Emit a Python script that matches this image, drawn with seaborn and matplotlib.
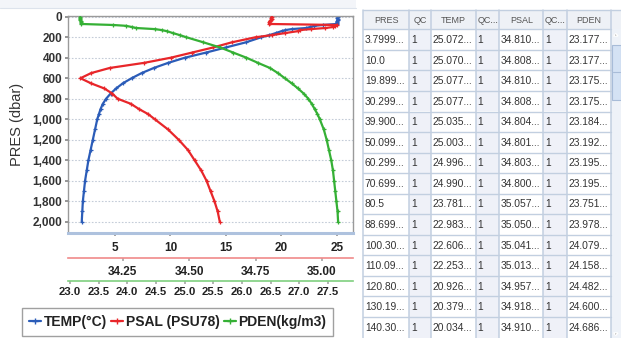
import numpy as np
import matplotlib
matplotlib.use("Agg")
import matplotlib.pyplot as plt
import seaborn as sns
from matplotlib.lines import Line2D
from matplotlib.patches import Rectangle, Polygon
from matplotlib.ticker import FuncFormatter

# profile data (pressure in dbar)
pres = [3.8, 10.0, 19.9, 30.3, 39.9, 50.1, 60.3, 70.7, 80.5, 88.7, 100.3, 110.1, 120.8, 130.2, 140.3,
        160, 180, 200, 250, 300, 350, 400, 450, 500, 550, 600, 650, 700, 750, 800, 850, 900, 950,
        1000, 1100, 1200, 1300, 1400, 1500, 1600, 1700, 1800, 1900, 2000]
temp = [25.072, 25.070, 25.077, 25.077, 25.035, 25.003, 24.996, 24.990, 23.781, 22.983, 22.606, 22.253,
        20.926, 20.379, 20.034, 19.5, 18.9, 18.2, 16.8, 15.0, 13.2, 11.3, 9.8, 8.5, 7.4, 6.5, 5.7, 5.1,
        4.6, 4.2, 3.9, 3.7, 3.55, 3.4, 3.2, 3.0, 2.8, 2.6, 2.45, 2.3, 2.2, 2.1, 2.05, 2.0]
psal = [34.810, 34.808, 34.810, 34.808, 34.804, 34.801, 34.803, 34.800, 35.057, 35.050, 35.041, 35.013,
        34.957, 34.918, 34.910, 34.86, 34.81, 34.75, 34.66, 34.59, 34.51, 34.43, 34.33, 34.20, 34.13,
        34.09, 34.13, 34.18, 34.21, 34.23, 34.28, 34.31, 34.345, 34.37, 34.42, 34.46, 34.495, 34.52,
        34.545, 34.565, 34.58, 34.595, 34.607, 34.615]
pden = [23.177, 23.177, 23.175, 23.175, 23.184, 23.192, 23.195, 23.195, 23.751, 23.978, 24.079, 24.158,
        24.482, 24.600, 24.686, 24.80, 24.92, 25.03, 25.33, 25.62, 25.85, 26.08, 26.28, 26.49, 26.63,
        26.75, 26.87, 26.98, 27.08, 27.16, 27.22, 27.27, 27.32, 27.36, 27.43, 27.48, 27.52, 27.56,
        27.59, 27.61, 27.63, 27.65, 27.67, 27.68]

series_labels = ["TEMP(°C)", "PSAL (PSU78)", "PDEN(kg/m3)"]
temp_ticks = [5, 10, 15, 20, 25]
psal_ticks = [34.25, 34.50, 34.75, 35.00]
pden_ticks = [23.0, 23.5, 24.0, 24.5, 25.0, 25.5, 26.0, 26.5, 27.0, 27.5]
pres_ticks = list(range(0, 2001, 200))

# table contents
col_headers = ["PRES", "QC", "TEMP", "QC...", "PSAL", "QC...", "PDEN"]
tab_pres = ["3.7999...", "10.0", "19.899...", "30.299...", "39.900...", "50.099...", "60.299...",
            "70.699...", "80.5", "88.699...", "100.30...", "110.09...", "120.80...", "130.19...", "140.30..."]
tab_temp = ["25.072...", "25.070...", "25.077...", "25.077...", "25.035...", "25.003...", "24.996...",
            "24.990...", "23.781...", "22.983...", "22.606...", "22.253...", "20.926...", "20.379...", "20.034..."]
tab_psal = ["34.810...", "34.808...", "34.810...", "34.808...", "34.804...", "34.801...", "34.803...",
            "34.800...", "35.057...", "35.050...", "35.041...", "35.013...", "34.957...", "34.918...", "34.910..."]
tab_pden = ["23.177...", "23.177...", "23.175...", "23.175...", "23.184...", "23.192...", "23.195...",
            "23.195...", "23.751...", "23.978...", "24.079...", "24.158...", "24.482...", "24.600...", "24.686..."]
tab_qc = ["1"] * len(tab_pres)

BLUE, RED, GREEN = "#2b5cb8", "#e8262a", "#35b035"

sns.set_theme(style="white")
plt.rcParams["font.family"] = ["Liberation Sans", "DejaVu Sans"]

W, H = 621, 338
fig = plt.figure(figsize=(W / 100, H / 100), dpi=100)
fig.patch.set_facecolor("white")

def fx(px):
    return px / W

def fy(py):
    return 1 - py / H

# main plot box
left, right, top, bottom = 68, 353, 15.7, 233
ax = fig.add_axes([fx(left), fy(bottom), (right - left) / W, (bottom - top) / H])
ax2 = ax.twiny()
ax3 = ax.twiny()

for a, xs, c in [(ax, temp, BLUE), (ax2, psal, RED), (ax3, pden, GREEN)]:
    sns.lineplot(x=xs, y=pres, ax=a, color=c, sort=False, orient="y", estimator=None,
                 lw=1.6, marker="+", markersize=3.5, markeredgewidth=0.9, markeredgecolor=c)

ax.set_ylim(2110, -10)
ax.set_xlim(0.76, 26.47)
ax2.set_xlim(34.043, 35.117)
ax3.set_xlim(22.965, 27.94)

ax.set_yticks(pres_ticks)
ax.yaxis.set_major_formatter(FuncFormatter(lambda v, p: f"{int(v):,}"))
ax.grid(axis="y", color="#c4ccd8", linestyle=(0, (1.5, 1.5)), lw=0.8)
ax.grid(axis="x", visible=False)
ax.set_xticks(temp_ticks)
ax.set_xlabel("")
ax.set_ylabel("PRES (dbar)", fontsize=10.5, color="#333333")
ax.yaxis.set_label_coords((24 - left) / (right - left), 0.5)

for s in ["left", "right", "top"]:
    ax.spines[s].set_color("#9a9a9a")
    ax.spines[s].set_linewidth(1)
ax.spines["bottom"].set_color("#aec2de")
ax.spines["bottom"].set_linewidth(2.2)
ax.tick_params(axis="y", length=2.2, pad=2, labelsize=8.5, colors="#333333", left=True, color="#888888")
ax.tick_params(axis="x", length=2, pad=4.5, labelsize=8.5, colors="#222222", bottom=True, color="#999999")
for t in ax.get_yticklabels() + ax.get_xticklabels():
    t.set_fontweight("bold")

for a, ticks, fmt, off, col, pad, fs in [
        (ax2, psal_ticks, "{:.2f}", 25, "#f08a8a", 3.8, 8.5),
        (ax3, pden_ticks, "{:.1f}", 48, "#7fcf7f", 2.3, 8.2)]:
    a.patch.set_visible(False)
    a.xaxis.set_ticks_position("bottom")
    a.xaxis.set_label_position("bottom")
    for s in ["left", "right", "top"]:
        a.spines[s].set_visible(False)
    a.spines["bottom"].set_position(("outward", off * 0.72))
    a.spines["bottom"].set_color(col)
    a.spines["bottom"].set_linewidth(1.2)
    a.set_xticks(ticks)
    a.set_xticklabels([fmt.format(v) for v in ticks], fontweight="bold")
    a.tick_params(axis="x", length=2, pad=pad, labelsize=fs, colors="#222222", color="#aaaaaa")
    a.set_xlabel("")
    a.grid(False)
    a.set_ylim(2110, -10)

# legend (bottom edge cut off like the screenshot)
handles = [Line2D([], [], color=c, lw=1.6, marker="+", markersize=4) for c in (BLUE, RED, GREEN)]
fig.legend(handles, series_labels, loc="upper left", bbox_to_anchor=(fx(22), fy(308)), ncol=3,
           frameon=True, fancybox=False, edgecolor="#888888", handlelength=0.9, handletextpad=0.15,
           columnspacing=0.3, borderpad=0.5, borderaxespad=0,
           prop={"size": 10, "weight": "bold"}, labelcolor="#222222")

# overlay in pixel coordinates for the window chrome and table
ov = fig.add_axes([0, 0, 1, 1], zorder=-1)
ov.set_xlim(0, W)
ov.set_ylim(H, 0)
ov.axis("off")
ov.add_patch(Rectangle((0, 0), 356, 8, facecolor="#f3f5f9", edgecolor="none"))
ov.plot([0, 356], [8, 8], color="#dde3ec", lw=0.8)

ov2 = fig.add_axes([0, 0, 1, 1], zorder=5)
ov2.set_xlim(0, W)
ov2.set_ylim(H, 0)
ov2.axis("off")

col_x = [363.3, 409.3, 430.7, 476.0, 499.3, 543.3, 566.7, 610.7]
head_top, head_bot, row_h = 10, 29.3, 20.55
line_col = "#c2cfe0"

# header
ov2.add_patch(Rectangle((col_x[0], head_top), 621 - col_x[0], head_bot - head_top,
                        facecolor="#eef1f6", edgecolor="none"))
for i, name in enumerate(col_headers):
    cx = (col_x[i] + col_x[i + 1]) / 2
    ov2.text(cx, (head_top + head_bot) / 2 + 0.5, name, ha="center", va="center", fontsize=6.5,
             color="#555555")

columns = [tab_pres, tab_qc, tab_temp, tab_qc, tab_psal, tab_qc, tab_pden]
n_rows = len(tab_pres)
for r in range(n_rows):
    y0 = head_bot + r * row_h
    for c, vals in enumerate(columns):
        fc = "#eff1f8" if c in (1, 3, 5) else "white"
        ov2.add_patch(Rectangle((col_x[c], y0), col_x[c + 1] - col_x[c], row_h,
                                facecolor=fc, edgecolor="none"))
        ov2.text(col_x[c] + 1.5, y0 + row_h / 2 + 0.5, vals[r], ha="left", va="center",
                 fontsize=7.4, color="#333333")
    ov2.plot([col_x[0], col_x[-1]], [y0, y0], color=line_col, lw=1)
ov2.plot([col_x[0], 621], [head_top, head_top], color=line_col, lw=1)
for x in col_x:
    ov2.plot([x, x], [head_top, H], color=line_col, lw=1.1)

# scrollbar
ov2.add_patch(Rectangle((610.7, head_bot), 10.3, H - head_bot, facecolor="#eef2f8", edgecolor="none"))
ov2.add_patch(Rectangle((611.5, 45), 9, 55, facecolor="#d4e2f4", edgecolor="#a8bcd8", lw=0.8))
ov2.plot([612.5, 619.5], [72, 72], color="#a8bcd8", lw=0.8)
ov2.add_patch(Polygon([[613.5, 36], [618, 36], [615.75, 33.5]], closed=True, facecolor="#333333"))
ov2.add_patch(Polygon([[613.5, 333], [618, 333], [615.75, 335.5]], closed=True, facecolor="#333333"))

fig.savefig("out.png", dpi=100)
